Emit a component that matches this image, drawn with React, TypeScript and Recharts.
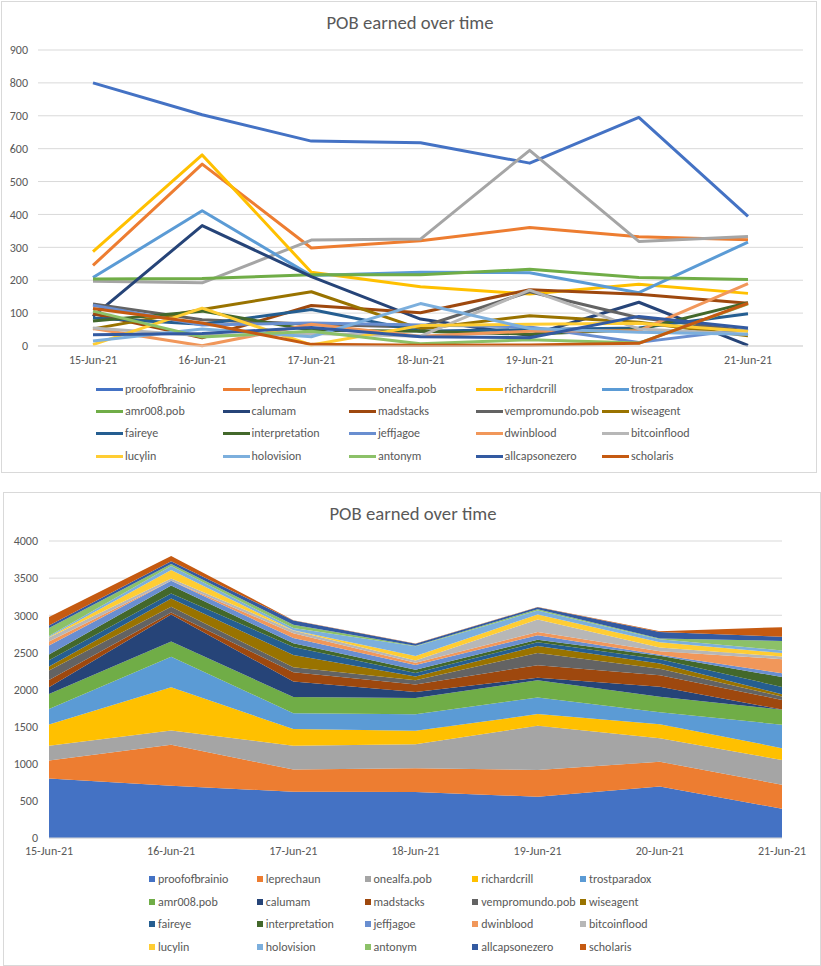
import { LineChart, Line, AreaChart, Area, XAxis, YAxis, CartesianGrid, Legend } from 'recharts'

const dates = ['15-Jun-21', '16-Jun-21', '17-Jun-21', '18-Jun-21', '19-Jun-21', '20-Jun-21', '21-Jun-21']

const seriesNames = [
  'proofofbrainio', 'leprechaun', 'onealfa.pob', 'richardcrill', 'trostparadox',
  'amr008.pob', 'calumam', 'madstacks', 'vempromundo.pob', 'wiseagent',
  'faireye', 'interpretation', 'jeffjagoe', 'dwinblood', 'bitcoinflood',
  'lucylin', 'holovision', 'antonym', 'allcapsonezero', 'scholaris',
]

const seriesColors = [
  '#4472C4', '#ED7D31', '#A5A5A5', '#FFC000', '#5B9BD5',
  '#70AD47', '#264478', '#9E480E', '#636363', '#997300',
  '#255E91', '#43682B', '#698ED0', '#F1975A', '#B7B7B7',
  '#FFCD33', '#7CAFDD', '#8CC168', '#335AA1', '#C55A11',
]

const proofofbrainio = [800, 703, 623, 618, 556, 695, 394]
const leprechaun = [245, 553, 298, 320, 360, 332, 323]
const onealfa = [197, 192, 322, 325, 595, 318, 333]
const richardcrill = [287, 581, 224, 180, 158, 188, 160]
const trostparadox = [208, 411, 214, 224, 223, 162, 316]
const amr008 = [204, 205, 217, 217, 233, 208, 202]
const calumam = [90, 366, 211, 82, 32, 133, 2]
const madstacks = [98, 25, 123, 101, 171, 157, 130]
const vempromundo = [128, 80, 66, 57, 165, 86, 46]
const wiseagent = [52, 111, 165, 52, 92, 72, 31]
const faireye = [85, 66, 111, 45, 50, 55, 98]
const interpretation = [76, 106, 48, 45, 36, 50, 132]
const jeffjagoe = [124, 64, 70, 64, 58, 11, 52]
const dwinblood = [53, 1, 66, 30, 45, 47, 190]
const bitcoinflood = [55, 31, 38, 30, 170, 52, 36]
const lucylin = [4, 115, 3, 62, 66, 69, 45]
const holovision = [15, 52, 28, 129, 53, 42, 36]
const antonym = [106, 27, 45, 7, 19, 9, 128]
const allcapsonezero = [34, 38, 56, 28, 25, 90, 55]
const scholaris = [114, 70, 5, 2, 3, 8, 130]

const seriesValues = [
  proofofbrainio, leprechaun, onealfa, richardcrill, trostparadox,
  amr008, calumam, madstacks, vempromundo, wiseagent,
  faireye, interpretation, jeffjagoe, dwinblood, bitcoinflood,
  lucylin, holovision, antonym, allcapsonezero, scholaris,
]

const lineTicks = [0, 100, 200, 300, 400, 500, 600, 700, 800, 900]
const areaTicks = [0, 500, 1000, 1500, 2000, 2500, 3000, 3500, 4000]

const rows = dates.map((date, i) => {
  const row: Record<string, string | number> = { date }
  seriesValues.forEach((vals, k) => { row[`s${k}`] = vals[i] })
  return row
})

const FONT = "Calibri, Carlito, 'Liberation Sans', Arial, sans-serif"
const TEXT = '#595959'
const GRID = '#D9D9D9'
const tickStyle = { fontSize: 12, fill: TEXT, fontFamily: FONT }

function GridLegend({ height, colStart, colWidth, rowYs, square }: { height: number; colStart: number; colWidth: number; rowYs: number[]; square: boolean }) {
  return (
    <div style={{ position: 'relative', width: 821, height, fontFamily: FONT, fontSize: 12, color: TEXT }}>
      {seriesNames.map((name, i) => {
        const x = colStart + (i % 5) * colWidth
        const y = rowYs[Math.floor(i / 5)]
        return (
          <div key={name} style={{ position: 'absolute', left: x, top: y - 8, height: 16, display: 'flex', alignItems: 'center', whiteSpace: 'nowrap' }}>
            {square
              ? <span style={{ display: 'inline-block', width: 6, height: 6, background: seriesColors[i], marginRight: 3 }} />
              : <span style={{ display: 'inline-block', width: 27, height: 3, background: seriesColors[i], marginRight: 2 }} />}
            <span>{name}</span>
          </div>
        )
      })}
    </div>
  )
}

function Title({ top, cx }: { top: number; cx: number }) {
  return (
    <div style={{ position: 'absolute', top, left: cx - 150, width: 300, textAlign: 'center', fontFamily: FONT, fontSize: 18.7, color: TEXT, lineHeight: '24px' }}>
      POB earned over time
    </div>
  )
}

export default function App() {
  return (
    <div style={{ position: 'absolute', left: 0, top: 0, width: 821, height: 966, background: '#fff' }}>
      <div style={{ position: 'absolute', left: 1, top: 1, width: 816, height: 472, border: `1px solid ${GRID}`, boxSizing: 'border-box' }} />
      <div style={{ position: 'absolute', left: 3, top: 492, width: 818, height: 474, border: `1px solid ${GRID}`, boxSizing: 'border-box' }} />

      <Title top={11} cx={410} />
      <div style={{ position: 'absolute', left: 0, top: 0 }}>
        <LineChart width={821} height={475} data={rows} margin={{ top: 50, right: 18, left: 8, bottom: 0 }}>
          <CartesianGrid stroke={GRID} vertical={false} />
          <XAxis dataKey="date" padding={{ left: 55, right: 55 }} tick={tickStyle} tickLine={false} axisLine={{ stroke: GRID }} height={30} tickMargin={3} interval={0} />
          <YAxis domain={[0, 900]} ticks={lineTicks} width={30} tick={tickStyle} tickLine={false} axisLine={false} tickMargin={4} interval={0} />
          <Legend verticalAlign="bottom" wrapperStyle={{ left: 0, bottom: 0, width: 821 }}
            content={() => <GridLegend height={99} colStart={96} colWidth={126.5} rowYs={[13, 35, 57, 80]} square={false} />} />
          {seriesNames.map((name, k) => (
            <Line key={name} type="linear" dataKey={`s${k}`} name={name} stroke={seriesColors[k]} strokeWidth={3} dot={false} activeDot={false} strokeLinejoin="round" isAnimationActive={false} />
          ))}
        </LineChart>
      </div>

      <Title top={502} cx={413} />
      <div style={{ position: 'absolute', left: 0, top: 490 }}>
        <AreaChart width={821} height={476} data={rows} margin={{ top: 51, right: 39, left: 9, bottom: 0 }}>
          <CartesianGrid stroke={GRID} vertical={false} />
          <XAxis dataKey="date" tick={tickStyle} tickLine={false} axisLine={{ stroke: GRID }} height={30} interval={0} />
          <YAxis domain={[0, 4000]} ticks={areaTicks} width={40} tick={tickStyle} tickLine={false} axisLine={false} tickMargin={5} interval={0} />
          <Legend verticalAlign="bottom" wrapperStyle={{ left: 0, bottom: 0, width: 821 }}
            content={() => <GridLegend height={98} colStart={149} colWidth={107.75} rowYs={[11, 34, 56, 79]} square={true} />} />
          {seriesNames.map((name, k) => (
            <Area key={name} type="linear" dataKey={`s${k}`} name={name} stackId="pob" stroke="none" fill={seriesColors[k]} fillOpacity={1} activeDot={false} isAnimationActive={false} />
          ))}
        </AreaChart>
      </div>
    </div>
  )
}
